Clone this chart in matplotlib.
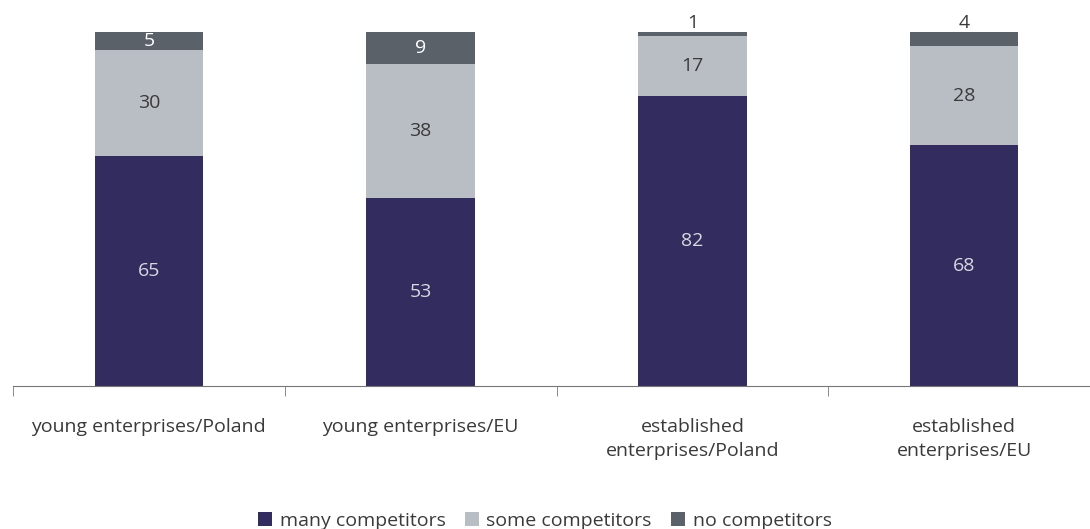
import matplotlib.pyplot as plt
import numpy as np

plt.rcParams['font.family'] = ['Open Sans', 'DejaVu Sans']

categories = ['young enterprises/Poland', 'young enterprises/EU',
              'established\nenterprises/Poland', 'established\nenterprises/EU']
many = [65, 53, 82, 68]
some = [30, 38, 17, 28]
none_ = [5, 9, 1, 4]

c_many = '#332C5E'
c_some = '#B9BEC5'
c_none = '#5B6169'

fig = plt.figure(figsize=(10.9, 5.29), dpi=100)
ax = fig.add_axes([13 / 1090, 143 / 529, 1087 / 1090, 354 / 529])

x = np.arange(len(categories))
w = 0.4
ax.bar(x, many, w, color=c_many, label='many competitors')
ax.bar(x, some, w, bottom=many, color=c_some, label='some competitors')
tops = np.array(many) + np.array(some)
ax.bar(x, none_, w, bottom=tops, color=c_none, label='no competitors')

fs = 14
for i in range(len(x)):
    ax.text(x[i], many[i] / 2, str(many[i]), ha='center', va='center',
            color='#D8D8E0', fontsize=fs)
    ax.text(x[i], many[i] + some[i] / 2, str(some[i]), ha='center', va='center',
            color='#3A3A3A', fontsize=fs)
    if none_[i] >= 5:
        ax.text(x[i], tops[i] + none_[i] / 2, str(none_[i]), ha='center',
                va='center', color='white', fontsize=fs)
    else:
        ax.text(x[i], 102.5, str(none_[i]), ha='center', va='center',
                color='#3A3A3A', fontsize=fs)

ax.set_xlim(-0.5, 3.5)
ax.set_ylim(0, 100)
for s in ['top', 'right', 'left']:
    ax.spines[s].set_visible(False)
ax.spines['bottom'].set_color('#777777')
ax.set_yticks([])
ax.set_xticks(x)
ax.set_xticklabels(categories, fontsize=fs, color='#3A3A3A', va='top',
                   linespacing=1.45)
ax.tick_params(axis='x', which='major', length=0, pad=23)
ax.set_xticks(np.arange(-0.5, 3.6, 1), minor=True)
ax.tick_params(axis='x', which='minor', length=7, color='#777777', direction='out')

fig.legend(loc='center', bbox_to_anchor=(0.5, 0.015), ncol=3, frameon=False,
           fontsize=fs, handlelength=0.7, handleheight=0.7, handletextpad=0.4,
           columnspacing=1.0, labelcolor='#3A3A3A')

fig.savefig('out.png', dpi=100)
